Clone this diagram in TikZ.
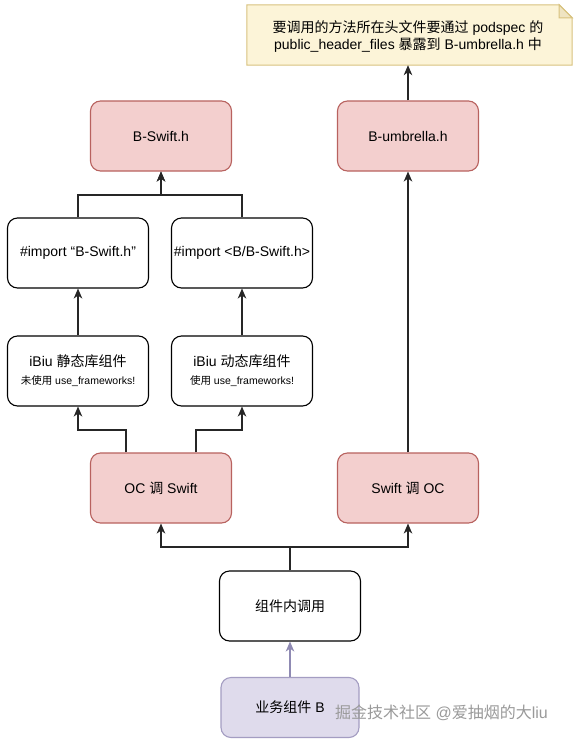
\documentclass[tikz,border=0pt]{standalone}
\usepackage{fontspec}
\setmainfont{Liberation Sans}
\newfontfamily\cjk{Noto Sans CJK SC}
\usetikzlibrary{arrows.meta,calc}
\definecolor{pinkfill}{HTML}{F3CFCE}
\definecolor{pinkdraw}{HTML}{B8625F}
\definecolor{notefill}{HTML}{FCF4D8}
\definecolor{notedraw}{HTML}{D8C27E}
\definecolor{foldfill}{HTML}{EFE4C2}
\definecolor{lavfill}{HTML}{DFDBEC}
\definecolor{lavdraw}{HTML}{A49DC2}
\definecolor{lavline}{HTML}{8F8AB3}
\definecolor{wmark}{HTML}{9A9A9A}
\begin{document}
\begin{tikzpicture}[x=1pt,y=-1pt,
  box/.style={draw=black, rounded corners=10pt, minimum width=141pt, minimum height=70pt,
    inner sep=1pt, align=center, font=\fontsize{14}{17}\selectfont, line width=1.1pt, fill=white},
  pinkbox/.style={box, fill=pinkfill, draw=pinkdraw},
  lavbox/.style={box, fill=lavfill, draw=lavdraw, minimum height=60pt, minimum width=138pt},
  conn/.style={line width=1.1pt, draw=black!85, -{Stealth[length=10pt,width=8.5pt,inset=3pt]}},
  lconn/.style={conn, draw=lavline, -{Stealth[length=10pt,width=8.5pt,inset=3pt]}},
]
\useasboundingbox (0,0) rectangle (580,742);
\fill[white] (0,0) rectangle (580,742);

% note
\node[minimum width=325pt, minimum height=60pt, inner sep=0pt, align=center,
  font=\fontsize{14}{17}\selectfont] (note) at (409.5,35) {};
\filldraw[fill=notefill, draw=notedraw, line width=1pt]
  (note.north west) -- ($(note.north east)+(-13,0)$) -- ($(note.north east)+(0,13)$)
  -- (note.south east) -- (note.south west) -- cycle;
\filldraw[fill=foldfill, draw=notedraw, line width=1pt]
  ($(note.north east)+(-13,0)$) -- ($(note.north east)+(-13,13)$) -- ($(note.north east)+(0,13)$) -- cycle;
\node[align=center, font=\fontsize{14}{17}\selectfont] (notetext) at (408,37)
  {{\cjk 要调用的方法所在头文件要通过} podspec {\cjk 的}\\
   public\_header\_files {\cjk 暴露到} B-umbrella.h {\cjk 中}};

% boxes
\node[pinkbox] (bswift) at (161,136) {B-Swift.h};
\node[pinkbox] (bumb) at (408,136) {B-umbrella.h};
\node[box] (imp1) at (78,253) {\#import “B-Swift.h”};
\node[box] (imp2) at (242,253) {\#import <B/B-Swift.h>};
\node[box] (ibs) at (78,371) {iBiu {\cjk 静态库组件}\\[1pt]{\fontsize{10.5}{12}\selectfont{\cjk 未使用} use\_frameworks!}};
\node[box] (ibd) at (242,371) {iBiu {\cjk 动态库组件}\\[1pt]{\fontsize{10.5}{12}\selectfont{\cjk 使用} use\_frameworks!}};
\node[pinkbox] (ocswift) at (161,488) {OC {\cjk 调} Swift};
\node[pinkbox] (swiftoc) at (408,488) {Swift {\cjk 调} OC};
\node[box] (inner) at (290,606) {\cjk 组件内调用};
\node[lavbox] (bizb) at (290,707.5) {{\cjk 业务组件} B};

% connectors
\coordinate (ya) at (0,195);
\coordinate (yb) at (0,430);
\coordinate (yc) at (0,547);
\draw[conn] (imp1.north) |- (ya -| bswift.south) -- (bswift.south);
\draw[conn] (imp2.north) |- (ya -| bswift.south) -- (bswift.south);
\draw[conn] (ibs.north) -- (imp1.south);
\draw[conn] (ibd.north) -- (imp2.south);
\draw[conn] ($(ocswift.north)+(-35,0)$) |- (yb -| ibs.south) -- (ibs.south);
\draw[conn] ($(ocswift.north)+(35,0)$) |- (yb -| ibd.south) -- (ibd.south);
\draw[conn] (swiftoc.north) -- (bumb.south);
\draw[conn] (bumb.north) -- (bumb.north |- note.south);
\draw[conn] (inner.north) |- (yc -| ocswift.south) -- (ocswift.south);
\draw[conn] (inner.north) |- (yc -| swiftoc.south) -- (swiftoc.south);
\draw[lconn] (bizb.north) -- (inner.south);

% watermark
\node[text=wmark, font=\fontsize{16}{18}\selectfont, anchor=west, inner sep=0pt] (wm) at (335,713)
  {{\cjk 掘金技术社区} @{\cjk 爱抽烟的大}liu};
\end{tikzpicture}
\end{document}
